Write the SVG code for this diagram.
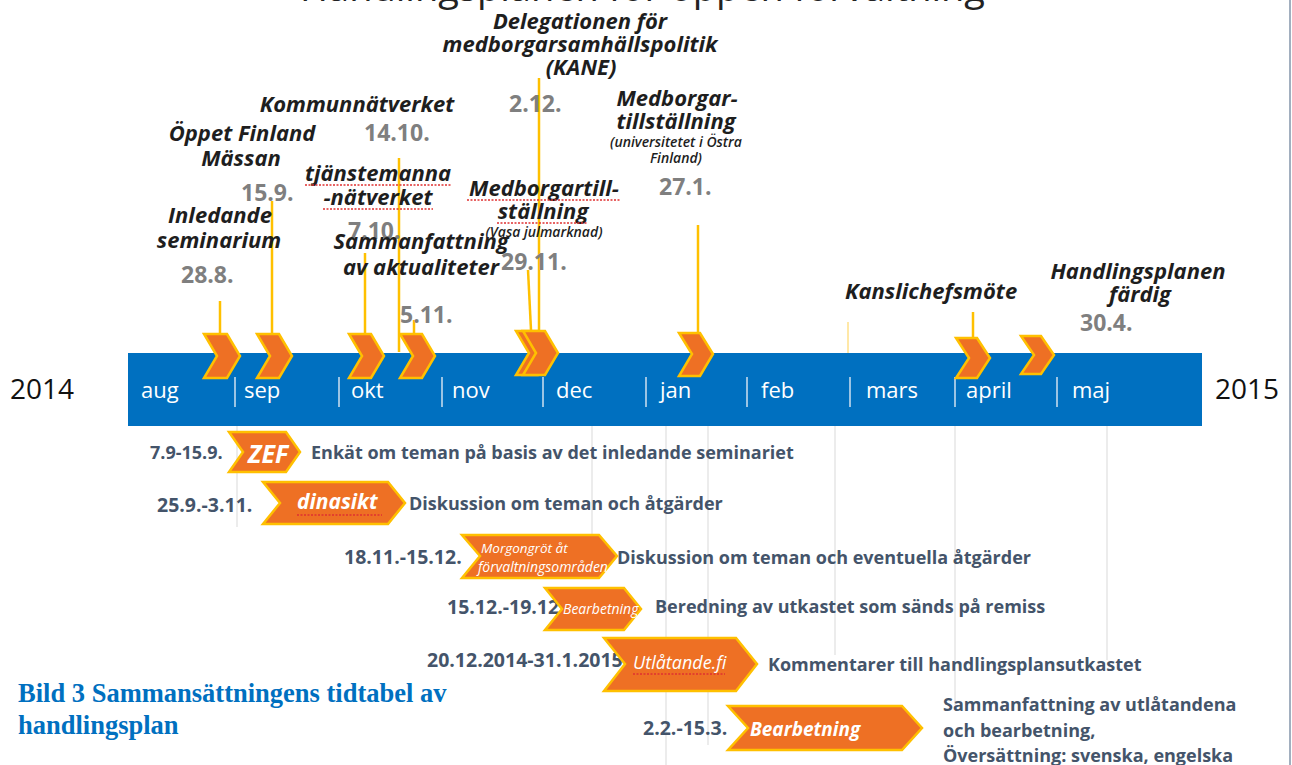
<svg xmlns="http://www.w3.org/2000/svg" width="1292" height="765" viewBox="0 0 1292 765">
<style>
.lbl{font-family:"Open Sans","DejaVu Sans",sans-serif;font-weight:700;font-style:italic;font-size:22px;fill:#1e1e1e}
.sm{font-family:"Open Sans","DejaVu Sans",sans-serif;font-weight:600;font-style:italic;font-size:14px;fill:#1e1e1e}
.dt{font-family:"Open Sans","DejaVu Sans",sans-serif;font-weight:700;font-size:23px;fill:#7f7f7f}
.mo{font-family:"Open Sans","DejaVu Sans",sans-serif;font-size:22px;fill:#ffffff}
.yr{font-family:"Open Sans","DejaVu Sans",sans-serif;font-size:28px;fill:#111111}
.row{font-family:"Open Sans","DejaVu Sans",sans-serif;font-weight:700;font-size:18px;fill:#44546a}
.rd{font-family:"Open Sans","DejaVu Sans",sans-serif;font-weight:700;font-size:19.5px;fill:#44546a}
.cw{font-family:"Open Sans","DejaVu Sans",sans-serif;font-style:italic;fill:#ffffff}
.chev{fill:#ee7024;stroke:#ffc000;stroke-width:2.5;stroke-linejoin:miter}
.con{stroke:#ffc000;stroke-width:2.5;fill:none}
.grid{stroke:#d9d9d9;stroke-width:1}
.tick{stroke:#cfe0f0;stroke-width:1.5}
.wavy{stroke:#e03030;stroke-width:1.3;stroke-dasharray:2 1.5;fill:none}
.cap{font-family:"Liberation Serif","Times New Roman",serif;font-weight:700;font-size:26.5px;fill:#0070c0}
</style>

<g id="title">
<text x="300" y="1" font-family="Open Sans, sans-serif" font-size="36" fill="#222" textLength="685" lengthAdjust="spacingAndGlyphs">Handlingsplanen för öppen förvaltning</text>
</g>

<line x1="1290" y1="0" x2="1290" y2="765" stroke="#8394aa" stroke-width="1.5"/>

<g id="grid-below">
<line class="grid" x1="237" y1="426" x2="237" y2="527"/>
<line class="grid" x1="592" y1="426" x2="592" y2="576"/>
<line class="grid" x1="666" y1="426" x2="666" y2="765"/>
<line class="grid" x1="708" y1="426" x2="708" y2="745"/>
<line class="grid" x1="835" y1="426" x2="835" y2="655"/>
<line class="grid" x1="955" y1="426" x2="955" y2="705"/>
<line class="grid" x1="1107" y1="426" x2="1107" y2="660"/>
</g>

<g id="timeline">
<rect x="128" y="353" width="1074" height="73" fill="#0070c0"/>
<g>
<line class="tick" x1="235" y1="377" x2="235" y2="407"/>
<line class="tick" x1="339" y1="377" x2="339" y2="407"/>
<line class="tick" x1="442" y1="377" x2="442" y2="407"/>
<line class="tick" x1="543" y1="377" x2="543" y2="407"/>
<line class="tick" x1="646" y1="377" x2="646" y2="407"/>
<line class="tick" x1="747" y1="377" x2="747" y2="407"/>
<line class="tick" x1="850" y1="377" x2="850" y2="407"/>
<line class="tick" x1="955" y1="377" x2="955" y2="407"/>
<line class="tick" x1="1057" y1="377" x2="1057" y2="407"/>
</g>
<text class="mo" x="141" y="398">aug</text>
<text class="mo" x="244" y="398">sep</text>
<text class="mo" x="351" y="398">okt</text>
<text class="mo" x="452" y="398">nov</text>
<text class="mo" x="556" y="398">dec</text>
<text class="mo" x="660" y="398">jan</text>
<text class="mo" x="761" y="398">feb</text>
<text class="mo" x="866" y="398">mars</text>
<text class="mo" x="966" y="398">april</text>
<text class="mo" x="1072" y="398">maj</text>
<text class="yr" x="10" y="399">2014</text>
<text class="yr" x="1215" y="399">2015</text>
</g>

<g id="connectors">
<line class="con" x1="220" y1="301" x2="220" y2="335"/>
<line class="con" x1="272" y1="201" x2="272" y2="336"/>
<line class="con" x1="365" y1="253" x2="365" y2="336"/>
<line class="con" x1="399" y1="158" x2="399" y2="352"/>
<line class="con" x1="414" y1="320" x2="414" y2="336"/>
<line class="con" x1="528" y1="270" x2="531" y2="330"/>
<line class="con" x1="539" y1="78" x2="539" y2="330"/>
<line class="con" x1="698" y1="225" x2="698" y2="334"/>
<line class="con" x1="973" y1="312" x2="973" y2="340"/>
<line x1="848" y1="322" x2="848" y2="353" stroke="#ffe08a" stroke-width="1.5"/>
</g>

<g id="markers">
<polygon class="chev" points="204,334 227,334 240,356 227,378 204,378 217,356"/>
<polygon class="chev" points="257,334 279,334 292,356 279,378 257,378 270,356"/>
<polygon class="chev" points="349,334 371,334 384,356 371,378 349,378 362,356"/>
<polygon class="chev" points="400,334 422,334 435,356 422,378 400,378 413,356"/>
<polygon class="chev" points="516,331 538,331 551,353 538,375 516,375 529,353"/>
<polygon class="chev" points="523,331 545,331 558,353 545,375 523,375 536,353"/>
<polygon class="chev" points="679,333 700,333 713,354 700,376 679,376 692,354"/>
<polygon class="chev" points="956,338 977,338 990,358 977,378 956,378 969,358"/>
<polygon class="chev" points="1021,336 1041,336 1054,355 1041,374 1021,374 1034,355"/>
</g>

<g id="dates-top">
<text class="dt" x="509" y="112">2.12.</text>
<text class="dt" x="364" y="141">14.10.</text>
<text class="dt" x="241" y="201">15.9.</text>
<text class="dt" x="659" y="195">27.1.</text>
<text class="dt" x="348" y="239">7.10.</text>
<text class="dt" x="501" y="270">29.11.</text>
<text class="dt" x="181" y="283">28.8.</text>
<text class="dt" x="400" y="323">5.11.</text>
<text class="dt" x="1080" y="331">30.4.</text>
</g>

<g id="label-kane" text-anchor="middle">
<text class="lbl" x="580" y="29">Delegationen för</text>
<text class="lbl" x="580" y="52">medborgarsamhällspolitik</text>
<text class="lbl" x="581" y="75">(KANE)</text>
</g>
<g id="label-kommun" text-anchor="middle">
<text class="lbl" x="357" y="112">Kommunnätverket</text>
</g>
<g id="label-oppet" text-anchor="middle">
<text class="lbl" x="242" y="141">Öppet Finland</text>
<text class="lbl" x="241" y="166">Mässan</text>
</g>
<g id="label-tjanste" text-anchor="middle">
<text class="lbl" x="378" y="181">tjänstemanna</text>
<text class="lbl" x="378" y="205">-nätverket</text>
<line class="wavy" x1="305" y1="185" x2="451" y2="185"/>
<line class="wavy" x1="323" y1="209" x2="433" y2="209"/>
</g>
<g id="label-inledande" text-anchor="middle">
<text class="lbl" x="220" y="223">Inledande</text>
<text class="lbl" x="219" y="248">seminarium</text>
</g>
<g id="label-sammanf" text-anchor="middle">
<text class="lbl" x="421" y="249">Sammanfattning</text>
<text class="lbl" x="421" y="275">av aktualiteter</text>
</g>
<g id="label-vasa" text-anchor="middle">
<text class="lbl" x="544" y="196">Medborgartill-</text>
<text class="lbl" x="543" y="219">ställning</text>
<text class="sm" x="544" y="237">(Vasa julmarknad)</text>
<line class="wavy" x1="467" y1="200" x2="621" y2="200"/>
<line class="wavy" x1="497" y1="223" x2="588" y2="223"/>
</g>
<g id="label-uef" text-anchor="middle">
<text class="lbl" x="677" y="106">Medborgar-</text>
<text class="lbl" x="676" y="129">tillställning</text>
<text class="sm" x="676" y="147">(universitetet i Östra</text>
<text class="sm" x="676" y="163">Finland)</text>
</g>
<g id="label-kansli">
<text class="lbl" x="845" y="299">Kanslichefsmöte</text>
</g>
<g id="label-hp" text-anchor="middle">
<text class="lbl" x="1138" y="279">Handlingsplanen</text>
<text class="lbl" x="1140" y="302">färdig</text>
</g>

<g id="row-zef">
<text class="row" x="150" y="459" font-size="17.5">7.9-15.9.</text>
<polygon class="chev" points="229,432 286,432 300,452 286,472 229,472 243,452"/>
<text class="cw" x="248" y="463" font-size="25" font-weight="700">ZEF</text>
<text class="row" x="311" y="459">Enkät om teman på basis av det inledande seminariet</text>
</g>
<g id="row-dinasikt">
<text class="rd" x="157" y="512">25.9.-3.11.</text>
<polygon class="chev" points="263,482 388,482 405,503 388,524 263,524 280,503"/>
<text class="cw" x="297" y="509" font-size="21" font-weight="700">dinasikt</text>
<line class="wavy" x1="297" y1="515" x2="382" y2="515"/>
<text class="row" x="409" y="510">Diskussion om teman och åtgärder</text>
</g>
<g id="row-morgongrot">
<text class="rd" x="344" y="564">18.11.-15.12.</text>
<polygon class="chev" points="462,535 599,535 617,556 599,578 462,578 480,556"/>
<text class="cw" x="481" y="553" font-size="13.5">Morgongröt åt</text>
<text class="cw" x="478" y="572" font-size="14">förvaltningsområden</text>
<text class="row" x="617" y="564">Diskussion om teman och eventuella åtgärder</text>
</g>
<g id="row-bearb1">
<text class="rd" x="447" y="614">15.12.-19.12</text>
<polygon class="chev" points="545,588 624,588 641,609 624,630 545,630 562,609"/>
<text class="cw" x="563" y="614" font-size="14">Bearbetning</text>
<text class="row" x="655" y="613">Beredning av utkastet som sänds på remiss</text>
</g>
<g id="row-utlatande">
<text class="rd" x="427" y="667">20.12.2014-31.1.2015</text>
<polygon class="chev" points="604,638 736,638 757,664 736,691 604,691 625,664"/>
<text class="cw" x="633" y="669" font-size="18">Utlåtande.fi</text>
<line class="wavy" x1="633" y1="674" x2="725" y2="674"/>
<text class="row" x="768" y="671">Kommentarer till handlingsplansutkastet</text>
</g>
<g id="row-bearb2">
<text class="rd" x="643" y="735">2.2.-15.3.</text>
<polygon class="chev" points="728,706 902,706 922,728 902,750 728,750 748,728"/>
<text class="cw" x="750" y="736" font-size="19" font-weight="700">Bearbetning</text>
<text class="row" x="943" y="711">Sammanfattning av utlåtandena</text>
<text class="row" x="943" y="737">och bearbetning,</text>
<text class="row" x="943" y="762">Översättning: svenska, engelska</text>
</g>

<g id="caption">
<text class="cap" x="18" y="702">Bild 3 Sammansättningens tidtabel av</text>
<text class="cap" x="18" y="734">handlingsplan</text>
</g>
</svg>
